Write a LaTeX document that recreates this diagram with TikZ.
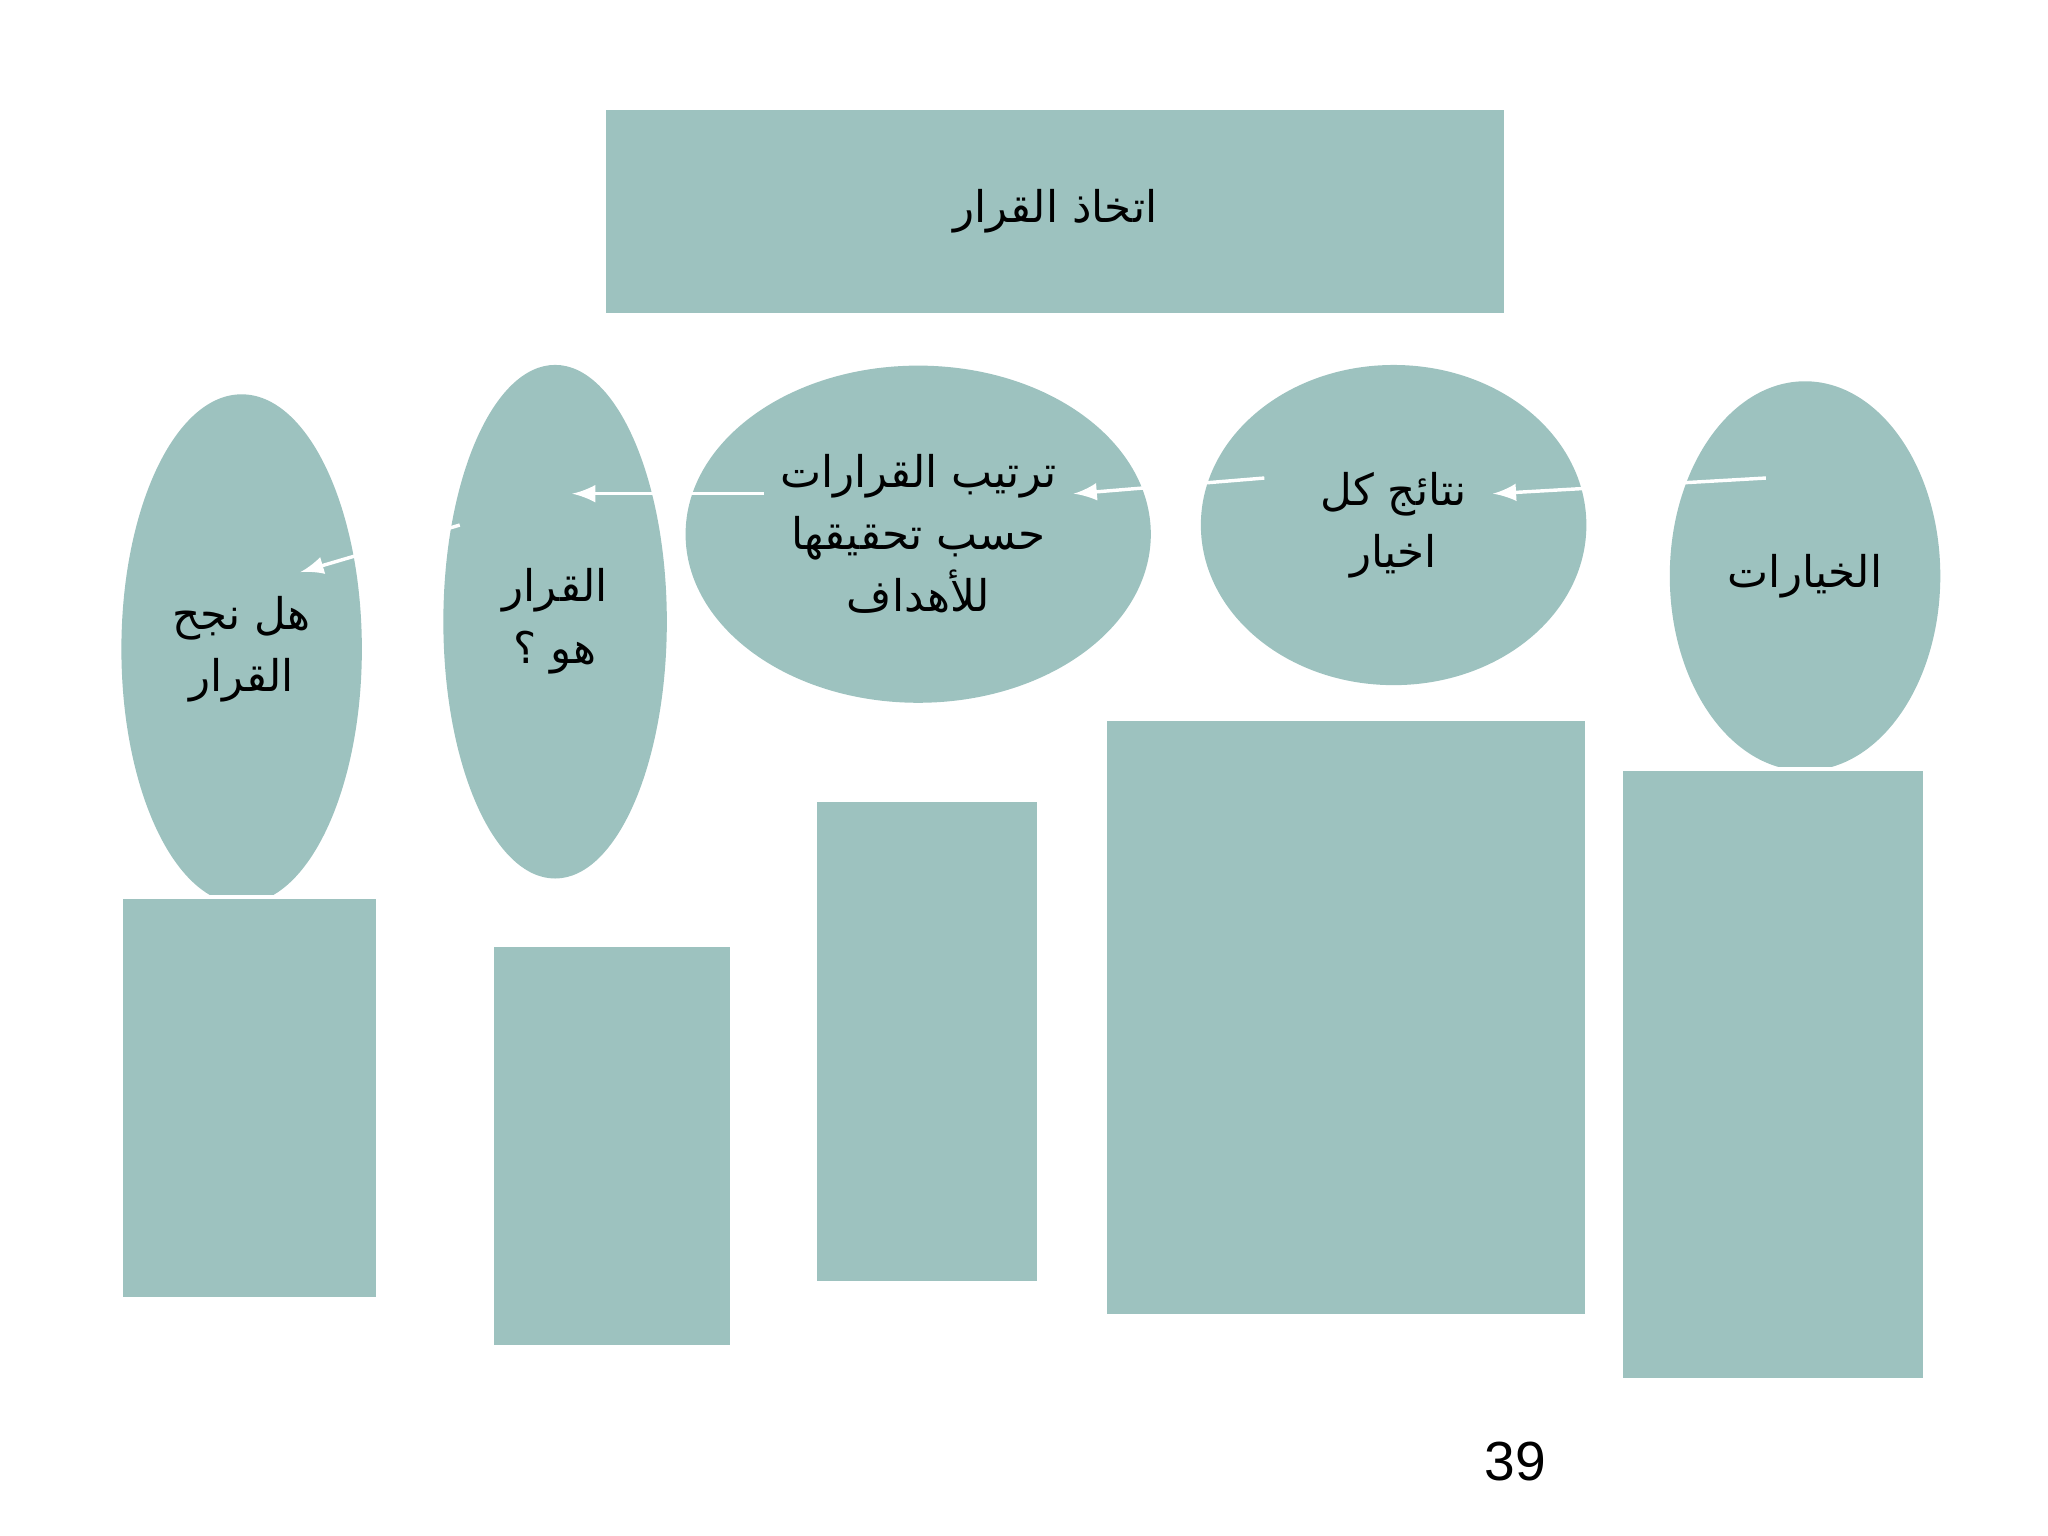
\documentclass[tikz,border=0pt]{standalone}
\usepackage{fontspec}
\setmainfont{Liberation Sans}
\newfontfamily\arabicfont[Script=Arabic]{DejaVu Sans}
\TeXXeTstate=1
\usetikzlibrary{shapes.geometric}
\definecolor{sage}{RGB}{157,194,191}
\tikzset{
  blob/.style={ellipse, fill=sage, inner sep=0pt, align=center,
    font=\arabicfont\fontsize{9.5}{13.5}\selectfont},
  panel/.style={rectangle, fill=sage, draw=white, line width=0.8pt, inner sep=0pt},
  link/.style={draw=white, line width=0.75pt, -latex},
}
\begin{document}
\begin{tikzpicture}[x=0.01cm, y=-0.01cm]
\useasboundingbox (0,0) rectangle (1568,1176);

% title bar
\node [panel, minimum width=6.9cm, minimum height=1.58cm,
  font=\arabicfont\fontsize{9.5}{13.5}\selectfont] (title) at (808,162) {\beginR اتخاذ القرار\endR};

% the five steps
\node [blob, minimum width=2.07cm, minimum height=2.98cm] (options) at (1382,441) {\beginR الخيارات\endR};
\node [blob, minimum width=2.95cm, minimum height=2.45cm] (results) at (1067,402) {\beginR نتائج كل\endR\\\beginR اخيار\endR};
\node [blob, minimum width=3.56cm, minimum height=2.58cm] (ranking) at (703,409) {\beginR ترتيب القرارات\endR\\\beginR حسب تحقيقها\endR\\\beginR للأهداف\endR};
\node [blob, minimum width=1.71cm, minimum height=3.93cm] (decision) at (425,476) {\beginR القرار\endR\\\beginR هو ؟\endR};
\node [blob, minimum width=1.84cm, minimum height=3.90cm] (success) at (185,497) {\beginR هل نجح\endR\\\beginR القرار\endR};

% boxes below
\node [panel, minimum width=2.33cm, minimum height=4.67cm] (optionsbox) at (1357.5,822.5) {};
\node [panel, minimum width=3.69cm, minimum height=4.56cm] (resultsbox) at (1030.5,779) {};
\node [panel, minimum width=1.71cm, minimum height=3.69cm] (rankingbox) at (709.5,797.5) {};
\node [panel, minimum width=1.83cm, minimum height=3.07cm] (decisionbox) at (468.5,877.5) {};
\node [panel, minimum width=1.96cm, minimum height=3.07cm] (successbox) at (191,840.5) {};

% arrow ends
\coordinate (o1) at (1352,366);
\coordinate (r1) at (1143,378);
\coordinate (r2) at (968,366);
\coordinate (k1) at (822,378);
\coordinate (k2) at (585,378);
\coordinate (d1) at (438,378);
\coordinate (d2) at (352,402);
\coordinate (s1) at (230,438);

\draw [link] (o1) -- (r1);
\draw [link] (r2) -- (k1);
\draw [link] (k2) -- (d1);
\draw [link] (d2) -- (s1);

\node [font=\fontsize{12}{14}\selectfont] (page) at (1160,1119) {39};
\end{tikzpicture}
\end{document}
